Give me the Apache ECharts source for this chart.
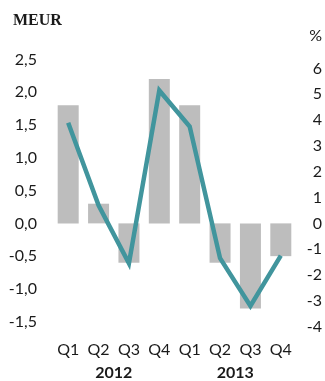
<!DOCTYPE html>
<html>
<head>
<meta charset="utf-8">
<script src="https://cdn.jsdelivr.net/npm/echarts@6/dist/echarts.min.js"></script>
<style>
  html, body { margin: 0; padding: 0; background: #fff; }
  #chart { width: 325px; height: 381px; }
</style>
</head>
<body>
<div id="chart"></div>
<script>
// Quarterly result (MEUR, bars) and change (% , line)
const quarters = ['Q1', 'Q2', 'Q3', 'Q4', 'Q1', 'Q2', 'Q3', 'Q4'];
const years = ['2012', '2013'];
const meurValues = [1.8, 0.3, -0.6, 2.2, 1.8, -0.6, -1.3, -0.5];
const pctValues = [3.9, 0.7, -1.55, 5.15, 3.75, -1.35, -3.2, -1.25];
const leftTicks = [-1.5, -1.0, -0.5, 0.0, 0.5, 1.0, 1.5, 2.0, 2.5];
const rightTicks = [-4, -3, -2, -1, 0, 1, 2, 3, 4, 5, 6];

const labelFont = 'Lato, "Open Sans", sans-serif';
const textColor = '#1a1a1a';

const chart = echarts.init(document.getElementById('chart'), null, { renderer: 'canvas' });

chart.setOption({
  animation: false,
  grid: { left: 53, right: 29, top: 50, bottom: 46, containLabel: false },
  graphic: [
    {
      type: 'text', left: 13, top: 13,
      style: { text: 'MEUR', font: 'bold 16px "Liberation Serif", "DejaVu Serif", serif', fill: textColor }
    },
    {
      type: 'text', right: 3, top: 28,
      style: { text: '%', font: '16px ' + labelFont, fill: textColor }
    }
  ],
  xAxis: [
    {
      type: 'category',
      data: quarters,
      position: 'bottom',
      axisLine: { show: false },
      axisTick: { show: false },
      axisLabel: { margin: 8, fontFamily: labelFont, fontSize: 16, color: textColor, interval: 0 }
    },
    {
      type: 'category',
      data: years,
      position: 'bottom',
      offset: 23,
      axisLine: { show: false },
      axisTick: { show: false },
      axisLabel: { margin: 8, fontFamily: labelFont, fontSize: 16, fontWeight: 'bold', color: textColor, interval: 0 }
    }
  ],
  yAxis: [
    {
      type: 'value',
      min: -1.687,
      max: 2.644,
      splitLine: { show: false },
      axisLine: { show: false },
      axisTick: { show: false },
      axisLabel: {
        customValues: leftTicks,
        margin: 16,
        fontFamily: labelFont,
        fontSize: 16,
        color: textColor,
        formatter: v => v.toFixed(1).replace('.', ',')
      }
    },
    {
      type: 'value',
      position: 'right',
      min: -4.286,
      max: 6.718,
      splitLine: { show: false },
      axisLine: { show: false },
      axisTick: { show: false },
      axisLabel: {
        customValues: rightTicks,
        margin: 26,
        align: 'right',
        fontFamily: labelFont,
        fontSize: 16,
        color: textColor,
        formatter: v => String(v)
      }
    }
  ],
  series: [
    {
      type: 'bar',
      xAxisIndex: 0,
      yAxisIndex: 0,
      data: meurValues,
      barWidth: 21,
      itemStyle: { color: '#bdbdbd' }
    },
    {
      type: 'line',
      xAxisIndex: 0,
      yAxisIndex: 1,
      data: pctValues,
      symbol: 'none',
      lineStyle: { color: '#41959d', width: 4.5, join: 'miter', cap: 'butt' }
    }
  ]
});
</script>
</body>
</html>
